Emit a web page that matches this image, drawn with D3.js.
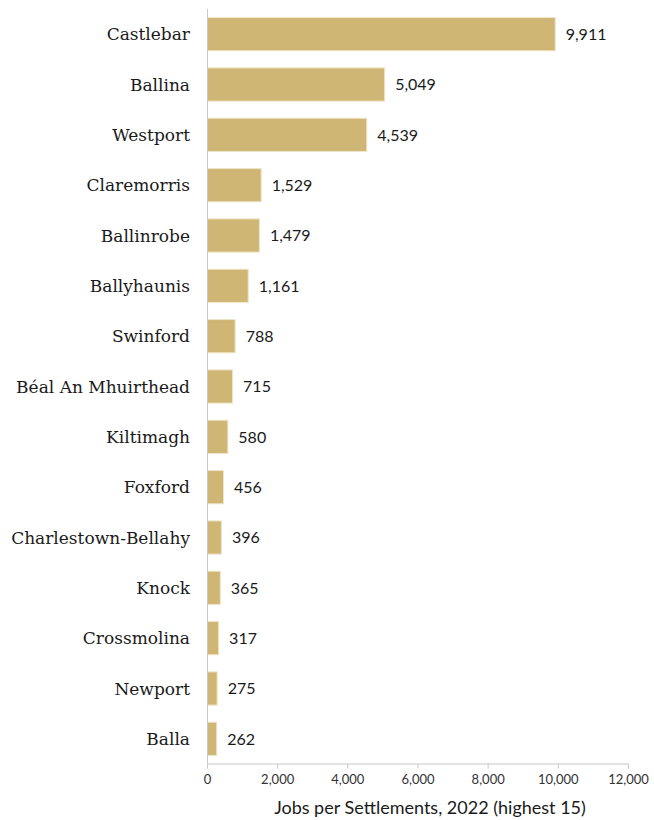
<!DOCTYPE html>
<html>
<head>
<meta charset="utf-8">
<script src="https://cdn.jsdelivr.net/npm/d3@7"></script>
<style>
  body { margin: 0; background: #fff; }
  svg { display: block; }
</style>
</head>
<body>
<svg id="chart" width="654" height="820"></svg>
<script>
// Jobs per settlement, 2022 (highest 15)
const settlements = ["Castlebar", "Ballina", "Westport", "Claremorris", "Ballinrobe", "Ballyhaunis",
  "Swinford", "Béal An Mhuirthead", "Kiltimagh", "Foxford", "Charlestown-Bellahy", "Knock",
  "Crossmolina", "Newport", "Balla"];
const jobs = [9911, 5049, 4539, 1529, 1479, 1161, 788, 715, 580, 456, 396, 365, 317, 275, 262];
const xTicks = [0, 2000, 4000, 6000, 8000, 10000, 12000];
const axisTitle = "Jobs per Settlements, 2022 (highest 15)";

const svg = d3.select("#chart");
const plotLeft = 207, plotRight = 628, plotTop = 9, plotBottom = 764;

const x = d3.scaleLinear().domain([0, 12000]).range([plotLeft, plotRight]);
const y = d3.scaleBand().domain(settlements).range([plotTop, plotBottom]).paddingInner(0.34).paddingOuter(0.17);
const fmt = d3.format(",");
const rows = settlements.map((s, i) => ({ name: s, value: jobs[i] }));

// bars
svg.append("g").selectAll("rect").data(rows).join("rect")
  .attr("x", x(0) + 0.5)
  .attr("y", d => y(d.name))
  .attr("width", d => x(d.value) - x(0))
  .attr("height", y.bandwidth())
  .attr("fill", "#cfb675")
  .attr("stroke", "#efe4c6")
  .attr("stroke-width", 1);

// value labels
svg.append("g").selectAll("text").data(rows).join("text")
  .attr("x", d => x(d.value) + 11)
  .attr("y", d => y(d.name) + y.bandwidth() / 2)
  .attr("dy", "0.36em")
  .attr("font-family", "Lato, sans-serif")
  .attr("font-size", 16)
  .attr("fill", "#1a1a1a")
  .text(d => fmt(d.value));

// category labels
svg.append("g").selectAll("text").data(rows).join("text")
  .attr("x", 190)
  .attr("y", d => y(d.name) + y.bandwidth() / 2)
  .attr("dy", "0.36em")
  .attr("text-anchor", "end")
  .attr("font-family", "'DejaVu Serif', serif")
  .attr("font-size", 17)
  .attr("fill", "#1a1a1a")
  .text(d => d.name);

// vertical axis line
svg.append("line")
  .attr("x1", plotLeft + 0.5).attr("x2", plotLeft + 0.5)
  .attr("y1", plotTop).attr("y2", 763)
  .attr("stroke", "#c8c8c8").attr("stroke-width", 1);

// x axis
const xAxis = svg.append("g")
  .attr("transform", "translate(0,763.5)")
  .call(d3.axisBottom(x).tickValues(xTicks).tickFormat(fmt).tickSizeOuter(0).tickSize(5).tickPadding(6));
xAxis.select(".domain").attr("stroke", "#c8c8c8");
xAxis.selectAll(".tick line").attr("stroke", "#c8c8c8");
xAxis.selectAll(".tick text")
  .attr("font-family", "Lato, sans-serif")
  .attr("font-size", 13)
  .attr("fill", "#333");

svg.append("text")
  .attr("x", 430)
  .attr("y", 814)
  .attr("text-anchor", "middle")
  .attr("font-family", "Lato, sans-serif")
  .attr("font-size", 18)
  .attr("fill", "#1a1a1a")
  .text(axisTitle);
</script>
</body>
</html>
